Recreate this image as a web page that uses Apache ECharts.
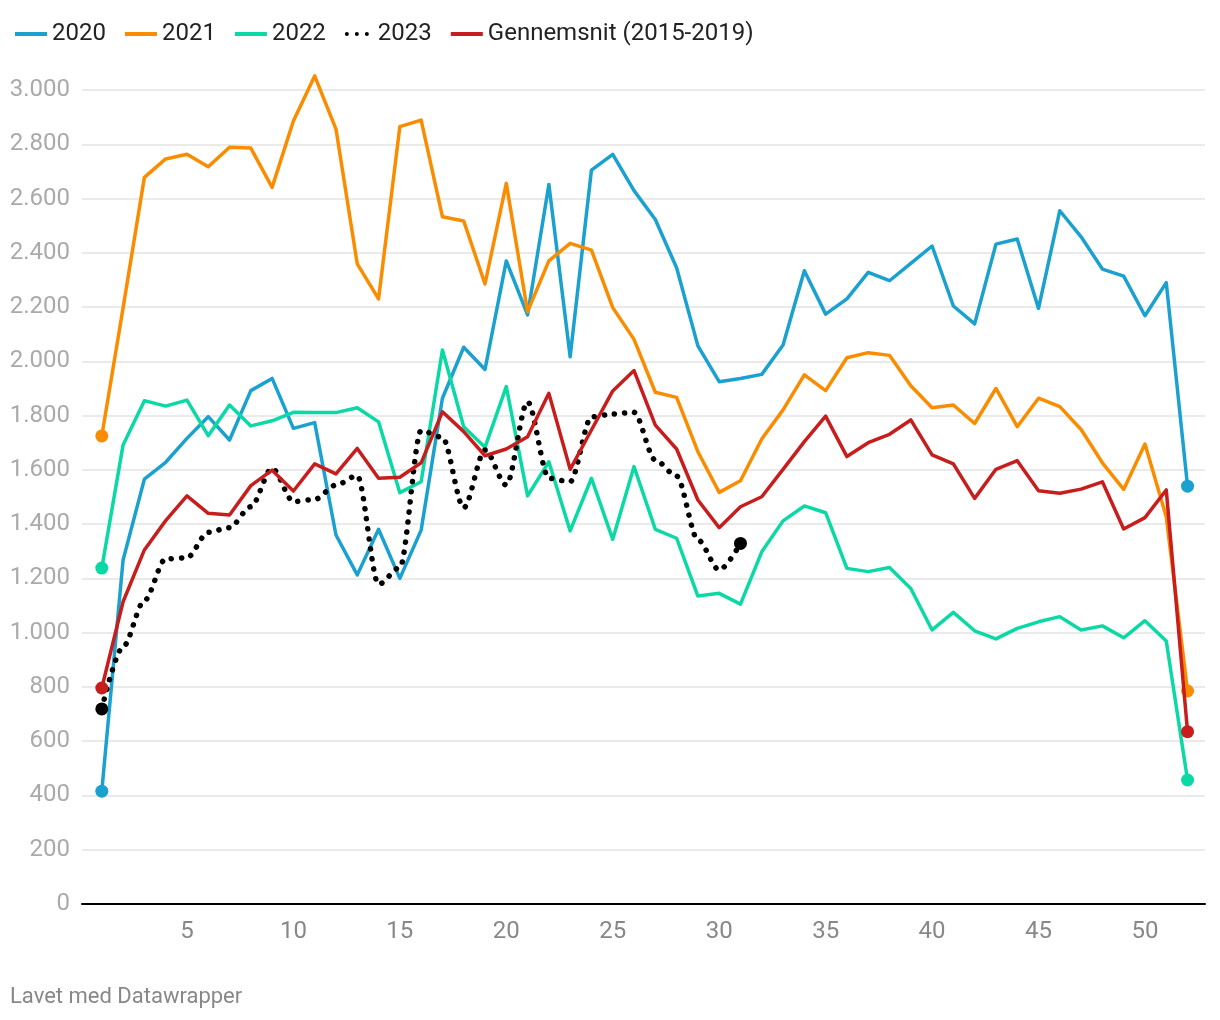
<!DOCTYPE html>
<html>
<head>
<meta charset="utf-8">
<script src="https://cdn.jsdelivr.net/npm/echarts@6/dist/echarts.min.js"></script>
<style>
html,body{margin:0;padding:0;background:#fff;}
#chart{width:1220px;height:1020px;}
</style>
</head>
<body>
<div id="chart"></div>
<script>
const weeks = [1,2,3,4,5,6,7,8,9,10,11,12,13,14,15,16,17,18,19,20,21,22,23,24,25,26,27,28,29,30,31,32,33,34,35,36,37,38,39,40,41,42,43,44,45,46,47,48,49,50,51,52];
const xTickLabels = [5,10,15,20,25,30,35,40,45,50];
const yTicks = [0,200,400,600,800,1000,1200,1400,1600,1800,2000,2200,2400,2600,2800,3000];

const seriesNames = ['2020','2021','2022','2023','Gennemsnit (2015-2019)'];
const colors = ['#1aa1cf','#fa8c00','#0bd9a5','#000000','#c71e1d'];

const s2020 = [416,1268,1566,1628,1716,1796,1710,1892,1937,1753,1774,1360,1213,1381,1200,1378,1864,2052,1970,2370,2171,2652,2017,2705,2763,2629,2523,2345,2057,1925,1937,1952,2060,2334,2174,2230,2328,2297,2361,2425,2204,2138,2432,2451,2195,2555,2459,2340,2314,2168,2290,1540];
const s2021 = [1725,2197,2678,2746,2763,2717,2789,2786,2641,2886,3052,2856,2359,2230,2865,2889,2533,2517,2285,2656,2183,2370,2435,2410,2198,2081,1886,1867,1667,1517,1560,1714,1821,1950,1892,2013,2032,2022,1910,1829,1839,1771,1900,1759,1864,1833,1749,1626,1528,1695,1427,785];
const s2022 = [1238,1692,1855,1835,1857,1726,1839,1762,1781,1812,1811,1811,1829,1777,1516,1556,2042,1759,1683,1907,1504,1630,1375,1569,1344,1612,1381,1348,1135,1145,1105,1298,1412,1467,1442,1237,1225,1240,1163,1010,1075,1007,977,1016,1040,1059,1010,1025,981,1044,969,457];
const s2023 = [719,948,1118,1272,1276,1370,1387,1464,1606,1483,1491,1544,1579,1178,1240,1745,1720,1460,1673,1544,1851,1569,1556,1795,1806,1812,1636,1577,1342,1231,1329];
const sAvg = [796,1114,1305,1413,1504,1440,1434,1542,1599,1522,1622,1585,1679,1569,1573,1626,1814,1741,1652,1677,1722,1882,1602,1747,1891,1966,1765,1677,1489,1387,1464,1501,1602,1704,1798,1649,1700,1731,1784,1655,1622,1495,1602,1634,1523,1514,1529,1556,1382,1424,1526,635];

const allData = [s2020, s2021, s2022, s2023, sAvg];

function build(vals) {
  return vals.map((v, i) => {
    const isEnd = (i === 0 || i === vals.length - 1);
    return {
      value: [weeks[i], v],
      symbol: isEnd ? 'circle' : 'none',
      symbolSize: isEnd ? 13 : 0
    };
  });
}

function fmt(v) {
  return String(v).replace(/\B(?=(\d{3})+(?!\d))/g, '.');
}

const FONT = 'Roboto';

const series = seriesNames.map((name, k) => {
  const dotted = name === '2023';
  return {
    name: name,
    type: 'line',
    data: build(allData[k]),
    clip: false,
    symbol: 'none',
    showAllSymbol: true,
    smooth: dotted ? 0.3 : false,
    smoothMonotone: dotted ? 'x' : undefined,
    z: dotted ? 4 : (k === 4 ? 5 : 3),
    itemStyle: { color: colors[k] },
    lineStyle: dotted
      ? { color: colors[k], width: 5.5, type: [0.1, 10], cap: 'round' }
      : { color: colors[k], width: 3.5, join: 'round' },
    emphasis: { disabled: true },
    animation: false
  };
});

const chart = echarts.init(document.getElementById('chart'), null, { renderer: 'canvas' });
chart.setOption({
  backgroundColor: '#ffffff',
  animation: false,
  textStyle: { fontFamily: FONT },
  legend: {
    left: 10,
    top: 17,
    itemWidth: 32,
    itemHeight: 4,
    itemGap: 19,
    textStyle: { fontFamily: FONT, fontSize: 24, color: '#222' },
    data: seriesNames.map((n, k) => ({
      name: n,
      icon: n === '2023'
        ? 'path://M2,0A2,2 0 1,1 1.99,0ZM12,0A2,2 0 1,1 11.99,0ZM22,0A2,2 0 1,1 21.99,0Z'
        : 'rect'
    })),
    selectedMode: false
  },
  grid: { left: 82, right: 15, top: 90, bottom: 116, containLabel: false },
  xAxis: {
    type: 'value',
    min: 0.07,
    max: 52.82,
    axisLine: { show: true, onZero: false, lineStyle: { color: '#000', width: 2 } },
    axisTick: { show: false },
    splitLine: { show: false },
    axisLabel: {
      customValues: xTickLabels,
      fontFamily: FONT, fontSize: 24, color: '#888', margin: 16
    }
  },
  yAxis: {
    type: 'value',
    min: 0,
    max: 3000,
    interval: 200,
    axisLine: { show: false },
    axisTick: { show: false },
    splitLine: { show: true, lineStyle: { color: '#e3e3e3', width: 1.5 } },
    axisLabel: {
      fontFamily: FONT, fontSize: 24, color: '#aaa', margin: 12,
      formatter: fmt
    }
  },
  graphic: [{
    type: 'text',
    left: 10,
    top: 986,
    style: { text: 'Lavet med Datawrapper', fontFamily: FONT, fontSize: 22, fill: '#888' }
  }],
  series: series
});
</script>
</body>
</html>
